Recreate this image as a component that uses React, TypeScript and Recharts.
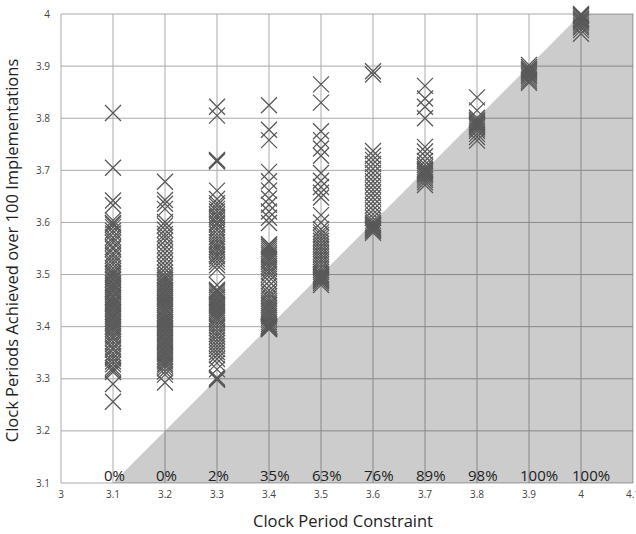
import { ComposedChart, Area, Scatter, XAxis, YAxis, CartesianGrid, Label } from 'recharts';

const xTicks = [3, 3.1, 3.2, 3.3, 3.4, 3.5, 3.6, 3.7, 3.8, 3.9, 4, 4.1];
const yTicks = [3.1, 3.2, 3.3, 3.4, 3.5, 3.6, 3.7, 3.8, 3.9, 4];

const constraints = [3.1, 3.2, 3.3, 3.4, 3.5, 3.6, 3.7, 3.8, 3.9, 4.0];
const metLabels = ['0%', '0%', '2%', '35%', '63%', '76%', '89%', '98%', '100%', '100%'];

// clock period achieved, one list per constraint (runs that land on top of each other collapsed)
const at31 = [3.81, 3.705, 3.642, 3.633, 3.604, 3.599, 3.596, 3.591, 3.584, 3.579, 3.571, 3.566, 3.561, 3.553, 3.549, 3.541, 3.536, 3.53, 3.524, 3.519, 3.512, 3.507, 3.503, 3.5, 3.496, 3.492, 3.489, 3.484, 3.481, 3.477, 3.473, 3.47, 3.466, 3.461, 3.458, 3.455, 3.451, 3.447, 3.444, 3.44, 3.436, 3.433, 3.428, 3.425, 3.421, 3.417, 3.414, 3.41, 3.406, 3.402, 3.399, 3.395, 3.391, 3.386, 3.381, 3.377, 3.371, 3.366, 3.36, 3.356, 3.349, 3.344, 3.339, 3.333, 3.328, 3.321, 3.317, 3.313, 3.29, 3.256];
const at32 = [3.678, 3.643, 3.636, 3.626, 3.601, 3.594, 3.586, 3.578, 3.572, 3.565, 3.556, 3.549, 3.541, 3.533, 3.526, 3.518, 3.511, 3.504, 3.498, 3.494, 3.49, 3.486, 3.483, 3.479, 3.475, 3.471, 3.468, 3.464, 3.46, 3.457, 3.453, 3.449, 3.446, 3.442, 3.438, 3.435, 3.431, 3.427, 3.424, 3.42, 3.416, 3.413, 3.409, 3.405, 3.402, 3.398, 3.394, 3.39, 3.387, 3.383, 3.379, 3.375, 3.371, 3.368, 3.364, 3.36, 3.356, 3.352, 3.348, 3.344, 3.341, 3.337, 3.333, 3.329, 3.325, 3.32, 3.314, 3.308, 3.293];
const at33 = [3.822, 3.805, 3.72, 3.719, 3.717, 3.661, 3.645, 3.637, 3.632, 3.626, 3.621, 3.615, 3.611, 3.606, 3.6, 3.596, 3.59, 3.585, 3.578, 3.572, 3.567, 3.562, 3.557, 3.553, 3.549, 3.544, 3.539, 3.535, 3.53, 3.524, 3.518, 3.51, 3.48, 3.471, 3.469, 3.466, 3.462, 3.458, 3.455, 3.451, 3.447, 3.443, 3.44, 3.436, 3.432, 3.428, 3.424, 3.42, 3.416, 3.412, 3.407, 3.402, 3.397, 3.391, 3.386, 3.381, 3.375, 3.369, 3.363, 3.357, 3.351, 3.345, 3.338, 3.33, 3.318, 3.302, 3.3, 3.298];
const at34 = [3.825, 3.778, 3.758, 3.697, 3.679, 3.661, 3.646, 3.634, 3.621, 3.609, 3.599, 3.558, 3.556, 3.553, 3.549, 3.545, 3.541, 3.537, 3.533, 3.529, 3.525, 3.52, 3.516, 3.511, 3.506, 3.501, 3.495, 3.487, 3.478, 3.47, 3.464, 3.459, 3.454, 3.449, 3.445, 3.441, 3.437, 3.433, 3.429, 3.425, 3.421, 3.417, 3.413, 3.409, 3.405, 3.402, 3.4, 3.399, 3.398, 3.397, 3.396, 3.395, 3.401, 3.4];
const at35 = [3.865, 3.83, 3.775, 3.758, 3.742, 3.728, 3.695, 3.68, 3.668, 3.657, 3.648, 3.614, 3.6, 3.587, 3.581, 3.576, 3.57, 3.565, 3.559, 3.554, 3.549, 3.544, 3.539, 3.534, 3.529, 3.524, 3.519, 3.514, 3.509, 3.505, 3.501, 3.499, 3.497, 3.495, 3.493, 3.491, 3.489, 3.487, 3.484, 3.48];
const at36 = [3.89, 3.884, 3.737, 3.728, 3.72, 3.712, 3.703, 3.695, 3.687, 3.679, 3.671, 3.663, 3.656, 3.648, 3.64, 3.632, 3.624, 3.616, 3.609, 3.603, 3.599, 3.596, 3.594, 3.592, 3.59, 3.588, 3.586, 3.583, 3.58];
const at37 = [3.862, 3.838, 3.822, 3.8, 3.745, 3.736, 3.727, 3.718, 3.711, 3.706, 3.702, 3.7, 3.698, 3.696, 3.693, 3.69, 3.686, 3.682, 3.677, 3.672];
const at38 = [3.84, 3.815, 3.801, 3.797, 3.794, 3.792, 3.79, 3.788, 3.786, 3.783, 3.78, 3.776, 3.77, 3.764, 3.757];
const at39 = [3.902, 3.898, 3.895, 3.892, 3.89, 3.888, 3.886, 3.883, 3.88, 3.876, 3.872, 3.868];
const at40 = [4.0, 3.998, 3.996, 3.993, 3.99, 3.988, 3.985, 3.982, 3.978, 3.974, 3.969, 3.962];

const achieved = [at31, at32, at33, at34, at35, at36, at37, at38, at39, at40];

// the "constraint met" region, below y = x
const shadeX = [3.1, 4, 4.1];
const shadeY = [3.1, 4, 4];

const shadeData = shadeX.map((x, i) => ({ x, s: shadeY[i] }));
const runPoints = constraints.flatMap((c, i) => achieved[i].map((y) => ({ x: c, y })));
const pctPoints = constraints.map((c, i) => ({ x: c, y: 3.1, label: metLabels[i] }));

const FONT = '"Open Sans", sans-serif';

const CrossMark = (props: any) => {
  const { cx, cy } = props;
  if (cx == null || cy == null) return null;
  const r = 8;
  return (
    <path
      d={`M${cx - r},${cy - r}L${cx + r},${cy + r}M${cx + r},${cy - r}L${cx - r},${cy + r}`}
      stroke="#595959"
      strokeWidth={1.3}
      fill="none"
    />
  );
};

const PctText = (props: any) => {
  const { cx, cy, payload } = props;
  return (
    <text x={cx - 9} y={cy - 2} fontSize={15} fontFamily={FONT} fill="#222">
      {payload.label}
    </text>
  );
};

const YTitle = ({ viewBox }: any) => {
  const cy = viewBox.y + viewBox.height / 2 + 2;
  return (
    <text
      x={11}
      y={cy}
      transform={`rotate(-90, 11, ${cy})`}
      textAnchor="middle"
      dominantBaseline="central"
      fontSize={16.5}
      fontFamily={FONT}
      fill="#222"
    >
      Clock Periods Achieved over 100 Implementations
    </text>
  );
};

const XTitle = ({ viewBox }: any) => (
  <text
    x={viewBox.x + viewBox.width / 2 - 4}
    y={527}
    textAnchor="middle"
    fontSize={16.5}
    fontFamily={FONT}
    fill="#222"
  >
    Clock Period Constraint
  </text>
);

export default function App() {
  return (
    <div style={{ position: 'absolute', left: 0, top: 0, width: 636, height: 534, background: '#fff' }}>
      <ComposedChart
        width={636}
        height={534}
        data={shadeData}
        margin={{ top: 14, right: 3, bottom: 0, left: 0 }}
      >
        <CartesianGrid stroke="#aaaaaa" strokeWidth={1} />
        <XAxis
          type="number"
          dataKey="x"
          domain={[3, 4.1]}
          ticks={xTicks}
          interval={0}
          height={51}
          axisLine={false}
          tickLine={false}
          tickMargin={2}
          tick={{ fontSize: 10, fontFamily: FONT, fill: '#444' }}
        >
          <Label content={<XTitle />} />
        </XAxis>
        <YAxis
          type="number"
          domain={[3.1, 4]}
          ticks={yTicks}
          interval={0}
          width={61}
          axisLine={false}
          tickLine={false}
          tickMargin={5}
          tick={{ fontSize: 10, fontFamily: FONT, fill: '#444' }}
        >
          <Label content={<YTitle />} />
        </YAxis>
        <Area
          type="linear"
          dataKey="s"
          fill="#000"
          fillOpacity={0.2}
          stroke="none"
          isAnimationActive={false}
          dot={false}
          activeDot={false}
        />
        <Scatter data={runPoints} dataKey="y" shape={<CrossMark />} isAnimationActive={false} />
        <Scatter data={pctPoints} dataKey="y" shape={<PctText />} isAnimationActive={false} />
      </ComposedChart>
    </div>
  );
}
